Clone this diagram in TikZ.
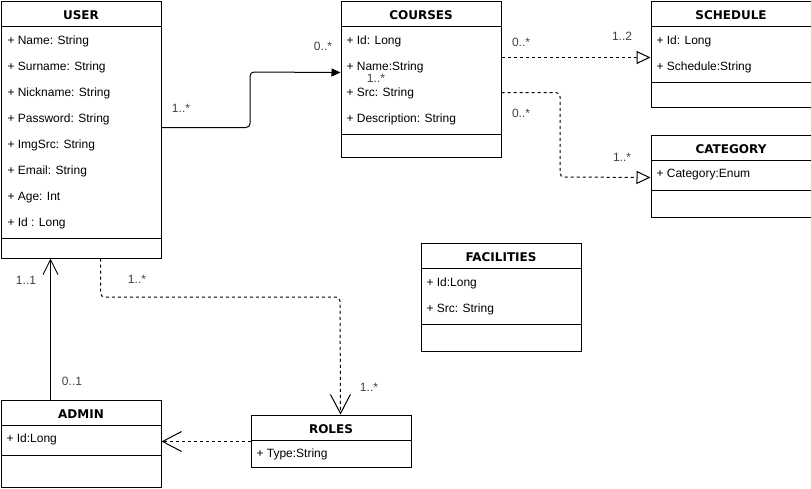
\documentclass[tikz,border=0pt]{standalone}
\usepackage{fontspec}
\setmainfont{Liberation Sans}
\newfontfamily\hdrfont{DejaVu Sans}
\usetikzlibrary{arrows.meta,calc}
\begin{document}
\begin{tikzpicture}[x=1pt,y=-1pt,line width=1pt,
  cls/.style={draw,anchor=north west,inner sep=0pt,minimum width=160pt},
  hdr/.style={inner sep=0pt,yshift=-1.5pt,font=\hdrfont\bfseries\fontsize{12}{14}\selectfont},
  attr/.style={anchor=west,inner sep=0pt,yshift=-1pt,font=\fontsize{12}{14}\selectfont,text height=9pt,text depth=3pt},
  mult/.style={inner sep=0pt,yshift=-1pt,font=\fontsize{12}{14}\selectfont,text=black!75,text height=9pt,text depth=3pt},
  dsh/.style={dash pattern=on 3pt off 3pt},
  filledtip/.style={-{Triangle[length=9pt,width=8pt]}},
  realize/.style={-{Triangle[open,length=14pt,width=13pt,fill=white]}},
  opentip/.style={-{Straight Barb[length=19pt,width=20pt,line width=1pt]}},
  smallopen/.style={-{Straight Barb[length=15pt,width=15pt,line width=1pt]}},
  rc/.style={rounded corners=4pt}]
\useasboundingbox (0,0) rectangle (811,488);

% ---------- USER ----------
\node[cls,minimum height=257pt] (user) at (0.5,0.5) {};
\draw ($(user.north west)+(0,26)$) -- ($(user.north east)+(0,26)$);
\draw ($(user.north west)+(0,238)$) -- ($(user.north east)+(0,238)$);
\node[hdr] (userh) at ($(user.north)+(0,13)$) {USER};
\node[attr] (u1) at (7,40) {+ Name: String};
\node[attr] (u2) at (7,66) {+ Surname: String};
\node[attr] (u3) at (7,92) {+ Nickname: String};
\node[attr] (u4) at (7,118) {+ Password: String};
\node[attr] (u5) at (7,144) {+ ImgSrc: String};
\node[attr] (u6) at (7,170) {+ Email: String};
\node[attr] (u7) at (7,196) {+ Age: Int};
\node[attr] (u8) at (7,222) {+ Id : Long};

% ---------- COURSES ----------
\node[cls,minimum height=156pt] (courses) at (340.5,0.5) {};
\draw ($(courses.north west)+(0,26)$) -- ($(courses.north east)+(0,26)$);
\draw ($(courses.north west)+(0,134)$) -- ($(courses.north east)+(0,134)$);
\node[hdr] (coursesh) at ($(courses.north)+(0,13)$) {COURSES};
\node[attr] (c1) at (346,40) {+ Id: Long};
\node[attr] (c2) at (346,66) {+ Name:String};
\node[attr] (c3) at (346,92) {+ Src: String};
\node[attr] (c4) at (346,118) {+ Description: String};

% ---------- SCHEDULE ----------
\node[cls,minimum height=106pt] (schedule) at (650.5,0.5) {};
\draw ($(schedule.north west)+(0,26)$) -- ($(schedule.north east)+(0,26)$);
\draw ($(schedule.north west)+(0,82)$) -- ($(schedule.north east)+(0,82)$);
\node[hdr] (scheduleh) at ($(schedule.north)+(0,13)$) {SCHEDULE};
\node[attr] (s1) at (656,40) {+ Id: Long};
\node[attr] (s2) at (656,66) {+ Schedule:String};

% ---------- CATEGORY ----------
\node[cls,minimum height=82pt] (category) at (650.5,134.5) {};
\draw ($(category.north west)+(0,26)$) -- ($(category.north east)+(0,26)$);
\draw ($(category.north west)+(0,56)$) -- ($(category.north east)+(0,56)$);
\node[hdr] (categoryh) at ($(category.north)+(0,13)$) {CATEGORY};
\node[attr] (k1) at (656,173) {+ Category:Enum};

% ---------- FACILITIES ----------
\node[cls,minimum height=108pt] (facilities) at (420.5,242.5) {};
\draw ($(facilities.north west)+(0,26)$) -- ($(facilities.north east)+(0,26)$);
\draw ($(facilities.north west)+(0,82)$) -- ($(facilities.north east)+(0,82)$);
\node[hdr] (facilitiesh) at ($(facilities.north)+(0,13)$) {FACILITIES};
\node[attr] (f1) at (426,282) {+ Id:Long};
\node[attr] (f2) at (426,308) {+ Src: String};

% ---------- ADMIN ----------
\node[cls,minimum height=87pt] (admin) at (0.5,399.5) {};
\draw ($(admin.north west)+(0,26)$) -- ($(admin.north east)+(0,26)$);
\draw ($(admin.north west)+(0,56)$) -- ($(admin.north east)+(0,56)$);
\node[hdr] (adminh) at ($(admin.north)+(0,13)$) {ADMIN};
\node[attr] (a1) at (6,438) {+ Id:Long};

% ---------- ROLES ----------
\node[cls,minimum height=52pt] (roles) at (250.5,414.5) {};
\draw ($(roles.north west)+(0,26)$) -- ($(roles.north east)+(0,26)$);
\node[hdr] (rolesh) at ($(roles.north)+(0,13)$) {ROLES};
\node[attr] (r1) at (256,453) {+ Type:String};

% ---------- connectors ----------
\coordinate (uc1) at ($(user.north east)+(0,127)$);
\coordinate (uc2) at ($(courses.north west)+(0,72)$);
\draw[filledtip,rc] (uc1) -| (250,72) -- (uc2);

\coordinate (cs1) at ($(courses.north east)+(0,57)$);
\coordinate (cs2) at ($(schedule.north west)+(0,57)$);
\draw[dsh,realize] (cs1) -- (cs2);

\coordinate (ck1) at ($(courses.north east)+(0,92)$);
\coordinate (ck2) at ($(category.north west)+(0,43)$);
\draw[dsh,realize,rc] (ck1) -| (560,177) -- (ck2);

\coordinate (au1) at ($(admin.north west)+(50,0)$);
\coordinate (au2) at ($(user.south west)+(50,0)$);
\draw[smallopen] (au1) -- (au2);

\coordinate (ur1) at ($(user.south west)+(100,0)$);
\coordinate (ur2) at ($(roles.north west)+(90,0)$);
\draw[dsh,opentip,rc] (ur1) |- (340,297) -- (ur2);

\coordinate (ra1) at ($(roles.north west)+(0,27)$);
\coordinate (ra2) at ($(admin.north east)+(0,42)$);
\draw[dsh,opentip] (ra1) -- (ra2);

% ---------- multiplicities ----------
\node[mult] (m1) at (181,108) {1..*};
\node[mult] (m2) at (323,46) {0..*};
\node[mult] (m3) at (521,42) {0..*};
\node[mult] (m4) at (622,36) {1..2};
\node[mult] (m5) at (521,113) {0..*};
\node[mult] (m6) at (622,157) {1..*};
\node[mult] (m7) at (376,78) {1..*};
\node[mult] (m8) at (26,280) {1..1};
\node[mult] (m9) at (72,381) {0..1};
\node[mult] (m10) at (137,279) {1..*};
\node[mult] (m11) at (369,387) {1..*};
\end{tikzpicture}
\end{document}
